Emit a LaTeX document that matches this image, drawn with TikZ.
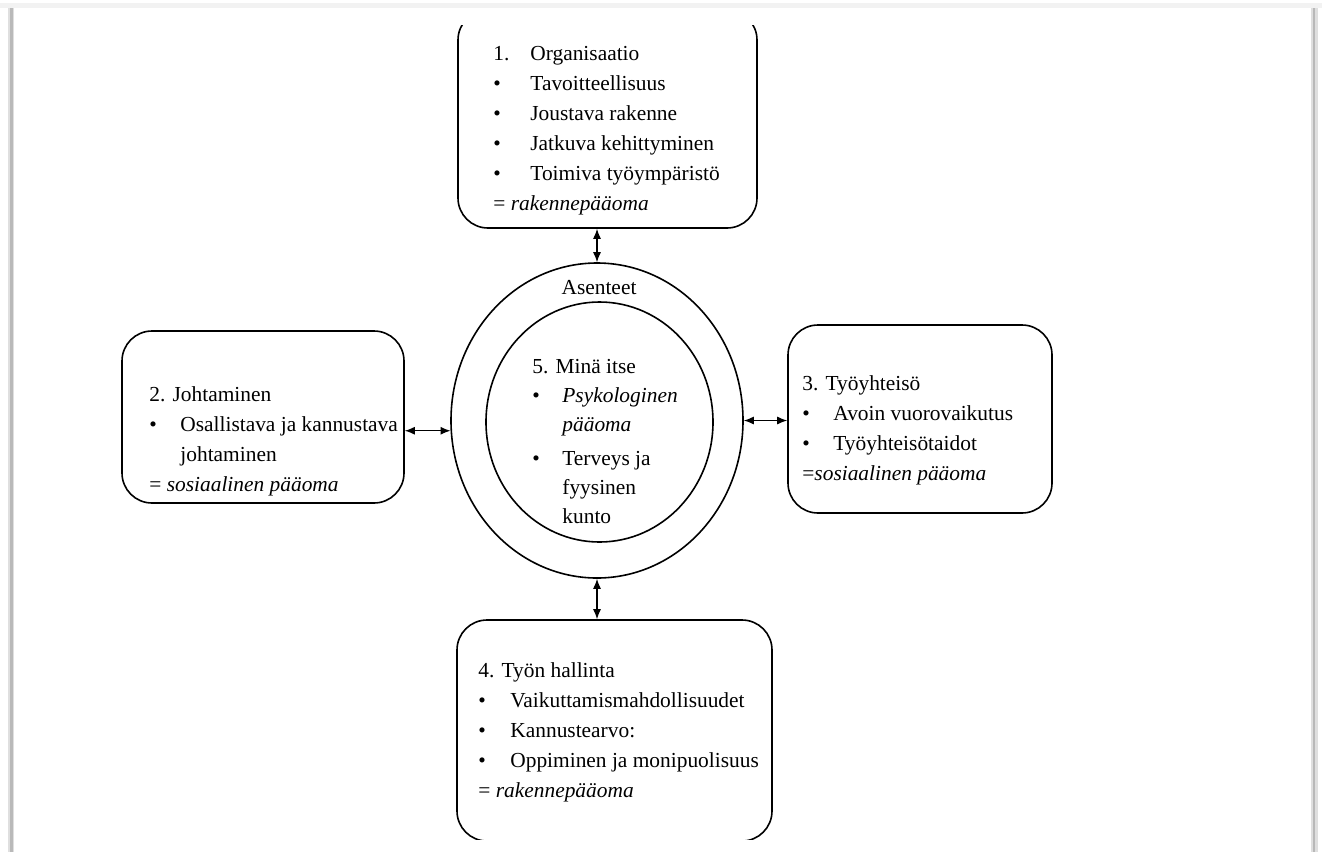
\documentclass[tikz,border=0pt]{standalone}
\usepackage{fontspec}
\setmainfont{Liberation Serif}
\usetikzlibrary{shapes.geometric,fit,arrows.meta}
\newcommand{\kohta}[2][15.5pt]{\makebox[#1][l]{\textbullet}#2}
\newcommand{\nro}[2][15.5pt]{\makebox[#1][l]{#2}}
\tikzset{
	laatikko/.style={draw, line width=0.8pt, rounded corners=15pt, inner sep=0pt},
	rengas/.style={draw, ellipse, line width=0.8pt, inner sep=0pt},
	teksti/.style={anchor=north west, inner sep=0pt, align=left, font=\fontsize{10.7}{15}\selectfont},
	nuoli/.style={<->, >={Latex[length=5pt,width=4pt]}, line width=0.6pt}
}
\begin{document}
\begin{tikzpicture}[x=0.5pt,y=-0.5pt,line join=round]
	\useasboundingbox (0,0) rectangle (1322,852);
	% sivun reunat
	\fill[gray!10] (0,3) rectangle (1322,8);
	\fill[gray!25] (8,8) rectangle (14,852);
	\fill[gray!55] (10,8) rectangle (12.5,852);
	\fill[gray!25] (1311,8) rectangle (1318,852);
	\fill[gray!55] (1312.5,8) rectangle (1315,852);
	\begin{scope}
		\clip (14,25) rectangle (1311,839);
		\node[laatikko, fit={(458,10) (757,228)}] (org) {};
		\node[laatikko, fit={(122,331) (404,503)}] (johto) {};
		\node[laatikko, fit={(788,325) (1052,513)}] (yhteiso) {};
		\node[laatikko, fit={(457,620) (772,841)}] (hallinta) {};
		\node[rengas, minimum width=146pt, minimum height=157.5pt] (ulko) at (597,420.5) {};
		\node[rengas, minimum width=113.5pt, minimum height=120pt] (sisa) at (599.5,422) {};
		% tekstit
		\node[teksti] (torg) at (493,39) {\strut\nro[18.5pt]{1.}Organisaatio\\
			\kohta[18.5pt]{Tavoitteellisuus}\\
			\kohta[18.5pt]{Joustava rakenne}\\
			\kohta[18.5pt]{Jatkuva kehittyminen}\\
			\kohta[18.5pt]{Toimiva työympäristö}\\
			= \textit{rakennepääoma}};
		\node[teksti] (tjohto) at (149,380) {\strut 2. Johtaminen\\
			\kohta{Osallistava ja kannustava}\\
			\hspace*{15.5pt}johtaminen\\
			= \textit{sosiaalinen pääoma}};
		\node[teksti] (tyhteiso) at (802,369) {\strut 3. Työyhteisö\\
			\kohta{Avoin vuorovaikutus}\\
			\kohta{Työyhteisötaidot}\\
			=\textit{sosiaalinen pääoma}};
		\node[teksti] (thallinta) at (478,656) {\strut 4. Työn hallinta\\
			\kohta[16pt]{Vaikuttamismahdollisuudet}\\
			\kohta[16pt]{Kannustearvo:}\\
			\kohta[16pt]{Oppiminen ja monipuolisuus}\\
			= \textit{rakennepääoma}};
		\node[teksti, font=\fontsize{10.7}{14.5}\selectfont] (tsisa) at (532,353) {\strut 5. Minä itse\\
			\kohta[15pt]{\textit{Psykologinen}}\\
			\hspace*{15pt}\textit{pääoma}\\[2.5pt]
			\kohta[15pt]{Terveys ja}\\
			\hspace*{15pt}fyysinen\\
			\hspace*{15pt}kunto};
		\node[anchor=base, inner sep=0pt, font=\fontsize{10.7}{15}\selectfont] (asenteet) at (599,294) {Asenteet};
		% nuolet
		\draw[nuoli] (ulko.north) -- (ulko.north |- org.south);
		\draw[nuoli] (ulko.184) -- (ulko.184 -| johto.east);
		\draw[nuoli] (ulko.east) -- (ulko.east -| yhteiso.west);
		\draw[nuoli] (ulko.south) -- (ulko.south |- hallinta.north);
	\end{scope}
\end{tikzpicture}
\end{document}
